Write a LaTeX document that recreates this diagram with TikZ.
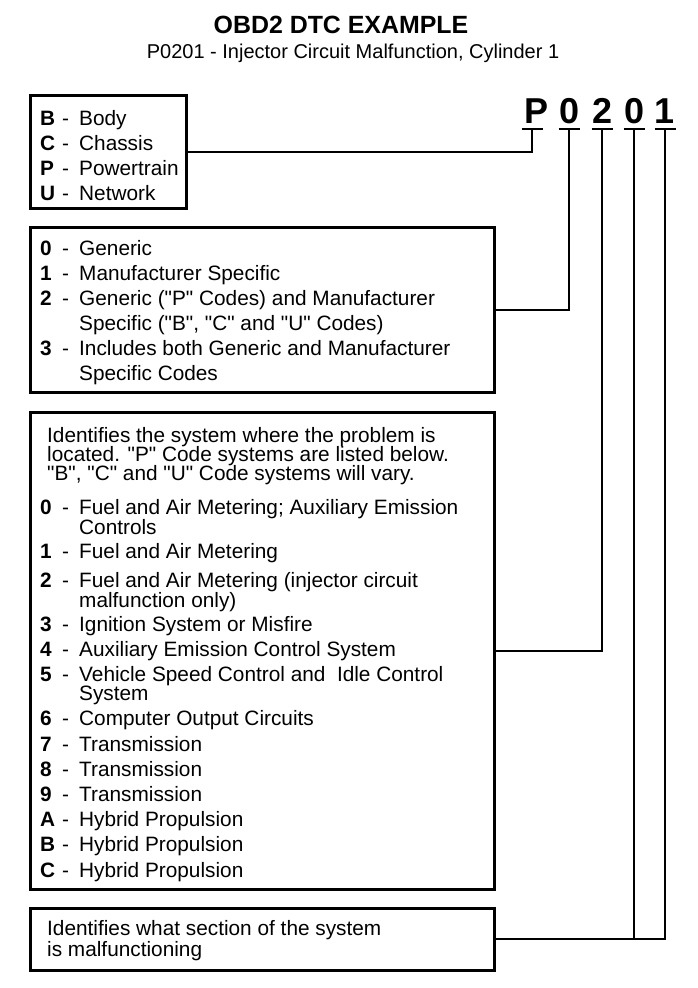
\documentclass[tikz,border=0pt]{standalone}
\usepackage{fontspec}
\setmainfont{Liberation Sans}
\newcommand\dq{\textquotedbl}
\newcommand\bodyfont{\fontsize{20.8}{22}\selectfont}
\newcommand\codeline[4]{\node[txt] (#1) at (40,#2) {\makebox[22pt][l]{\textbf{#3}}\makebox[17pt][l]{-}#4};}
\newcommand\contline[3]{\node[txt] (#1) at (79,#2) {#3};}
\newcommand\paraline[3]{\node[txt] (#1) at (47,#2) {#3};}
\begin{document}
\begin{tikzpicture}[x=1pt,y=-1pt,
  box/.style={draw, line width=2.8pt, rectangle, inner sep=0pt, anchor=north west},
  conn/.style={draw, line width=2pt},
  txt/.style={inner sep=0pt, anchor=base west, font=\bodyfont},
  big/.style={inner sep=0pt, anchor=base, font=\fontsize{36}{40}\selectfont\bfseries}]
\useasboundingbox (0,0) rectangle (697,988);
% title
\node[inner sep=0pt, anchor=base, font=\fontsize{24.9}{28}\selectfont\bfseries] (title) at (341,33) {OBD2 DTC EXAMPLE};
\node[inner sep=0pt, anchor=base, font=\fontsize{20}{24}\selectfont] (subtitle) at (353,58) {P0201 - Injector Circuit Malfunction, Cylinder 1};
% code letters
\node[big] (cP) at (537,123) {P};
\node[big] (c0a) at (570,123) {0};
\node[big] (c2) at (603,123) {2};
\node[big] (c0b) at (635,123) {0};
\node[big] (c1) at (665,123) {1};
\coordinate (uP) at (532,129);
\coordinate (u0a) at (569,129);
\coordinate (u2) at (602,129);
\coordinate (u0b) at (634,129);
\coordinate (u1) at (665,129);
\foreach \u in {uP,u0a,u2,u0b,u1}{\draw[conn] ([xshift=-10.5pt]\u) -- ([xshift=10.5pt]\u);}
% boxes
\node[box, minimum width=156pt, minimum height=113pt] (b1) at (29,94) {};
\node[box, minimum width=464pt, minimum height=165pt] (b2) at (29,226) {};
\node[box, minimum width=464pt, minimum height=477pt] (b3) at (29,411) {};
\node[box, minimum width=464pt, minimum height=62pt] (b4) at (29,907) {};
% connectors
\draw[conn] (b1.east) -| (uP);
\draw[conn] (b2.east) -| (u0a);
\draw[conn] (b3.east) -| (u2);
\draw[conn] (b4.east) -| (u1);
\draw[conn] (u0b) -- (u0b |- b4.east);
% box 1
\codeline{t1a}{125}{B}{Body}
\codeline{t1b}{150}{C}{Chassis}
\codeline{t1c}{175}{P}{Powertrain}
\codeline{t1d}{200}{U}{Network}
% box 2
\codeline{t2a}{255}{0}{Generic}
\codeline{t2b}{280}{1}{Manufacturer Specific}
\codeline{t2c}{305}{2}{Generic (\dq P\dq{} Codes) and Manufacturer}
\contline{t2d}{330}{Specific (\dq B\dq, \dq C\dq{} and \dq U\dq{} Codes)}
\codeline{t2e}{355}{3}{Includes both Generic and Manufacturer}
\contline{t2f}{380}{Specific Codes}
% box 3
\paraline{t3a}{442}{Identifies the system where the problem is}
\paraline{t3b}{461}{located. \dq P\dq{} Code systems are listed below.}
\paraline{t3c}{480}{\dq B\dq, \dq C\dq{} and \dq U\dq{} Code systems will vary.}
\codeline{t3d}{514}{0}{Fuel and Air Metering; Auxiliary Emission}
\contline{t3e}{534}{Controls}
\codeline{t3f}{558}{1}{Fuel and Air Metering}
\codeline{t3g}{587}{2}{Fuel and Air Metering (injector circuit}
\contline{t3h}{607}{malfunction only)}
\codeline{t3i}{631}{3}{Ignition System or Misfire}
\codeline{t3j}{656}{4}{Auxiliary Emission Control System}
\codeline{t3k}{681}{5}{Vehicle Speed Control and\ \ Idle Control}
\contline{t3l}{700}{System}
\codeline{t3m}{725}{6}{Computer Output Circuits}
\codeline{t3n}{751}{7}{Transmission}
\codeline{t3o}{776}{8}{Transmission}
\codeline{t3p}{801}{9}{Transmission}
\codeline{t3q}{826}{A}{Hybrid Propulsion}
\codeline{t3r}{851}{B}{Hybrid Propulsion}
\codeline{t3s}{877}{C}{Hybrid Propulsion}
% box 4
\paraline{t4a}{935}{Identifies what section of the system}
\paraline{t4b}{956}{is malfunctioning}
\end{tikzpicture}
\end{document}
